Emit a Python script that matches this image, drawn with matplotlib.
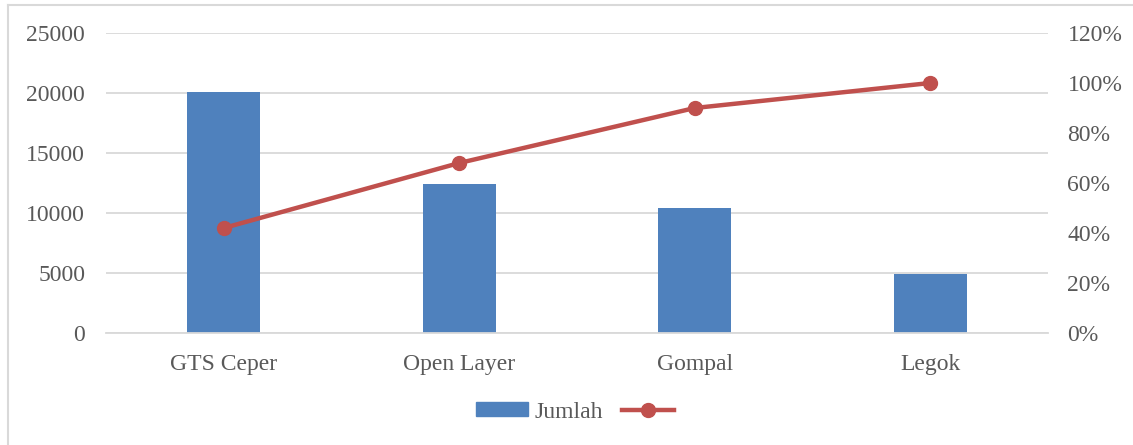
import matplotlib
matplotlib.use("Agg")
import matplotlib.pyplot as plt
from matplotlib.patches import Rectangle
from matplotlib.lines import Line2D
from matplotlib.ticker import FuncFormatter

categories = ["GTS Ceper", "Open Layer", "Gompal", "Legok"]
jumlah = [20100, 12400, 10400, 4900]
kumulatif_persen = [42, 68, 90, 100]
left_ticks = [0, 5000, 10000, 15000, 20000, 25000]
right_ticks = [0, 20, 40, 60, 80, 100, 120]

bar_color = "#4F81BD"
line_color = "#C0504D"
grid_color = "#D9D9D9"
text_color = "#595959"
font = "Liberation Serif"
fs = 17

W, H = 1133, 445
fig = plt.figure(figsize=(W / 100, H / 100), dpi=100)
fig.patch.set_facecolor("white")

L, R, T, B = 106, 1048, 33, 333
ax = fig.add_axes([L / W, 1 - B / H, (R - L) / W, (B - T) / H])
x = list(range(len(categories)))
ax.bar(x, jumlah, width=0.31, color=bar_color, zorder=2)
ax.set_xlim(-0.5, len(categories) - 0.5)
ax.set_ylim(0, 25000)
ax.set_yticks(left_ticks)
ax.set_xticks(x)
ax.set_xticklabels(categories)
ax.grid(axis="y", color=grid_color, linewidth=1.3, zorder=0)
ax.set_axisbelow(True)
for s in ["top", "right", "left"]:
    ax.spines[s].set_visible(False)
ax.spines["bottom"].set_color(grid_color)
ax.spines["bottom"].set_linewidth(1.3)
ax.tick_params(axis="both", length=0, labelsize=fs, labelcolor=text_color)
ax.tick_params(axis="y", pad=15)
ax.tick_params(axis="x", pad=15)

ax2 = ax.twinx()
ax2.plot(x, [v / 100 for v in kumulatif_persen], color=line_color, linewidth=3.2,
         marker="o", markersize=10, zorder=3)
ax2.set_ylim(0, 1.2)
ax2.set_yticks([v / 100 for v in right_ticks])
ax2.yaxis.set_major_formatter(FuncFormatter(lambda v, p: f"{round(v * 100)}%"))
for s in ["top", "right", "left", "bottom"]:
    ax2.spines[s].set_visible(False)
ax2.tick_params(axis="y", length=0, labelsize=fs, labelcolor=text_color, pad=14)

for a in (ax, ax2):
    for lab in a.get_xticklabels() + a.get_yticklabels():
        lab.set_fontfamily(font)

handles = [Rectangle((0, 0), 1, 1, color=bar_color),
           Line2D([], [], color=line_color, linewidth=3.2, marker="o", markersize=10)]
leg = fig.legend(handles, ["Jumlah", ""], loc="center", ncol=2,
                 bbox_to_anchor=(578 / W, 1 - 412 / H), frameon=False,
                 prop={"family": font, "size": fs}, handlelength=2.2,
                 handleheight=0.5, handletextpad=0.25, columnspacing=0.8)
for t in leg.get_texts():
    t.set_color(text_color)

fig.add_artist(Line2D([8 / W, 8 / W], [0, 1 - 5 / H], transform=fig.transFigure,
                      color=grid_color, linewidth=1.5))
fig.add_artist(Line2D([8 / W, 1], [1 - 5 / H, 1 - 5 / H], transform=fig.transFigure,
                      color=grid_color, linewidth=1.5))

fig.savefig("out.png", dpi=100, facecolor="white")
